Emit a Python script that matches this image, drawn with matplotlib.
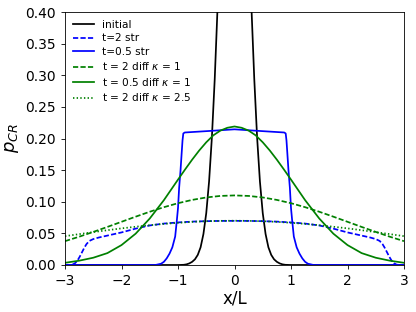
import matplotlib
matplotlib.use("Agg")
import matplotlib.pyplot as plt
import numpy as np

# ---- data ----
# initial profile
x_init = [-3.0, -1.0, -0.9, -0.85, -0.8, -0.75, -0.7, -0.65, -0.6, -0.55, -0.5, -0.45,
          -0.4, -0.35, -0.3, -0.25, -0.2, -0.15, -0.1, -0.05, 0.0,
          0.05, 0.1, 0.15, 0.2, 0.25, 0.3, 0.35, 0.4, 0.45, 0.5, 0.55, 0.6,
          0.65, 0.7, 0.75, 0.8, 0.85, 0.9, 1.0, 3.0]
y_init = [0.0, 0.0, 0.0003, 0.001, 0.0025, 0.005, 0.009, 0.016, 0.028, 0.049, 0.082, 0.132,
          0.202, 0.294, 0.407, 0.535, 0.670, 0.799, 0.905, 0.975, 1.0,
          0.975, 0.905, 0.799, 0.670, 0.535, 0.407, 0.294, 0.202, 0.132, 0.082, 0.049, 0.028,
          0.016, 0.009, 0.005, 0.0025, 0.001, 0.0003, 0.0, 0.0]

# t=2 streaming
x_str2 = [-3.0, -2.95, -2.87, -2.82, -2.78, -2.74, -2.70, -2.66, -2.62, -2.57, -2.5, -2.4,
          -2.25, -2.0, -1.75, -1.5, -1.25, -1.0, -0.75, -0.5, -0.25, 0.0,
          0.25, 0.5, 0.75, 1.0, 1.25, 1.5, 1.75, 2.0, 2.25, 2.4, 2.5,
          2.57, 2.62, 2.66, 2.70, 2.74, 2.78, 2.82, 2.87, 2.95, 3.0]
y_str2 = [0.0, 0.0, 0.0005, 0.003, 0.007, 0.013, 0.020, 0.027, 0.033, 0.038, 0.041, 0.0435,
          0.0465, 0.0515, 0.0575, 0.0625, 0.0655, 0.0673, 0.0686, 0.0693, 0.0697, 0.0698,
          0.0697, 0.0693, 0.0686, 0.0673, 0.0655, 0.0625, 0.0575, 0.0515, 0.0465, 0.0435, 0.041,
          0.038, 0.033, 0.027, 0.020, 0.013, 0.007, 0.003, 0.0005, 0.0, 0.0]

# t=0.5 streaming
x_str05 = [-3.0, -1.4, -1.35, -1.3, -1.25, -1.2, -1.15, -1.1, -1.05, -1.02, -1.0, -0.98,
           -0.955, -0.935, -0.92, -0.906, -0.88, -0.7, -0.43, 0.0,
           0.43, 0.7, 0.88, 0.906, 0.92, 0.935, 0.955, 0.98, 1.0, 1.02, 1.05,
           1.1, 1.15, 1.2, 1.25, 1.3, 1.35, 1.4, 3.0]
y_str05 = [0.0, 0.0, 0.001, 0.002, 0.005, 0.0105, 0.018, 0.028, 0.045, 0.071, 0.09, 0.122,
           0.15, 0.177, 0.197, 0.208, 0.2095, 0.2105, 0.212, 0.2145,
           0.212, 0.2105, 0.2095, 0.208, 0.197, 0.177, 0.15, 0.122, 0.09, 0.071, 0.045,
           0.028, 0.018, 0.0105, 0.005, 0.002, 0.001, 0.0, 0.0]

# diffusion curves
x_diff = [-3.0, -2.75, -2.5, -2.25, -2.0, -1.75, -1.5, -1.25, -1.0, -0.75, -0.5, -0.25, 0.0,
          0.25, 0.5, 0.75, 1.0, 1.25, 1.5, 1.75, 2.0, 2.25, 2.5, 2.75, 3.0]
y_diff2_k1 = [0.0377, 0.0447, 0.0523, 0.0602, 0.0683, 0.0764, 0.0842, 0.0914, 0.0977, 0.1029,
              0.1068, 0.1092, 0.110,
              0.1092, 0.1068, 0.1029, 0.0977, 0.0914, 0.0842, 0.0764, 0.0683, 0.0602, 0.0523,
              0.0447, 0.0377]
y_diff2_k25 = [0.0456, 0.0488, 0.0520, 0.0550, 0.0579, 0.0605, 0.0629, 0.0650, 0.0667, 0.0682,
               0.0692, 0.0698, 0.0700,
               0.0698, 0.0692, 0.0682, 0.0667, 0.0650, 0.0629, 0.0605, 0.0579, 0.0550, 0.0520,
               0.0488, 0.0456]

# t=0.5 diffusion (finer sampling)
x_d05 = [-3.0, -2.75, -2.5, -2.25, -2.0, -1.75, -1.5, -1.25, -1.0, -0.875, -0.75, -0.625,
         -0.5, -0.375, -0.25, -0.125, 0.0, 0.125, 0.25, 0.375, 0.5, 0.625, 0.75, 0.875,
         1.0, 1.25, 1.5, 1.75, 2.0, 2.25, 2.5, 2.75, 3.0]
y_d05 = [0.0035, 0.0068, 0.0115, 0.0188, 0.0315, 0.0495, 0.0735, 0.1025, 0.135, 0.151, 0.1665,
         0.181, 0.194, 0.205, 0.2125, 0.217, 0.219, 0.217, 0.2125, 0.205, 0.194, 0.181, 0.1665,
         0.151, 0.135, 0.1025, 0.0735, 0.0495, 0.0315, 0.0188, 0.0115, 0.0068, 0.0035]

x_ticks = [-3, -2, -1, 0, 1, 2, 3]
y_ticks = [0.00, 0.05, 0.10, 0.15, 0.20, 0.25, 0.30, 0.35, 0.40]

# ---- plot ----
fig = plt.figure(figsize=(4.16, 3.12), dpi=100)
ax = fig.add_axes([65/416, 47/312, 339/416, 253/312])

lw = 1.25
ax.plot(x_init, y_init, color='k', lw=lw, label='initial')
ax.plot(x_str2, y_str2, color='b', lw=lw, ls=(0, (3.0, 1.3)), label='t=2 str')
ax.plot(x_str05, y_str05, color='b', lw=lw, label='t=0.5 str')
ax.plot(x_diff, y_diff2_k1, color='g', lw=lw, ls=(0, (3.0, 1.3)), label=r't = 2 diff $\kappa$ = 1')
ax.plot(x_d05, y_d05, color='g', lw=lw, label=r't = 0.5 diff $\kappa$ = 1')
ax.plot(x_diff, y_diff2_k25, color='g', lw=lw, ls=(0, (0.8, 1.3)), label=r't = 2 diff $\kappa$ = 2.5')

ax.set_xlim(-3, 3)
ax.set_ylim(0, 0.4)
ax.set_xticks(x_ticks)
ax.set_yticks(y_ticks)
ax.set_yticklabels([f"{v:.2f}" for v in y_ticks])
ax.tick_params(labelsize=10, width=0.6, length=3)
for s in ax.spines.values():
    s.set_linewidth(0.6)
ax.set_xlabel('x/L', fontsize=12, labelpad=1)
ax.set_ylabel(r'$p_{CR}$', fontsize=13, labelpad=3)

ax.legend(loc='upper left', frameon=False, fontsize=7.6, labelspacing=0.33,
          handlelength=2.0, borderaxespad=0.35)

fig.savefig('out.png', dpi=100)
